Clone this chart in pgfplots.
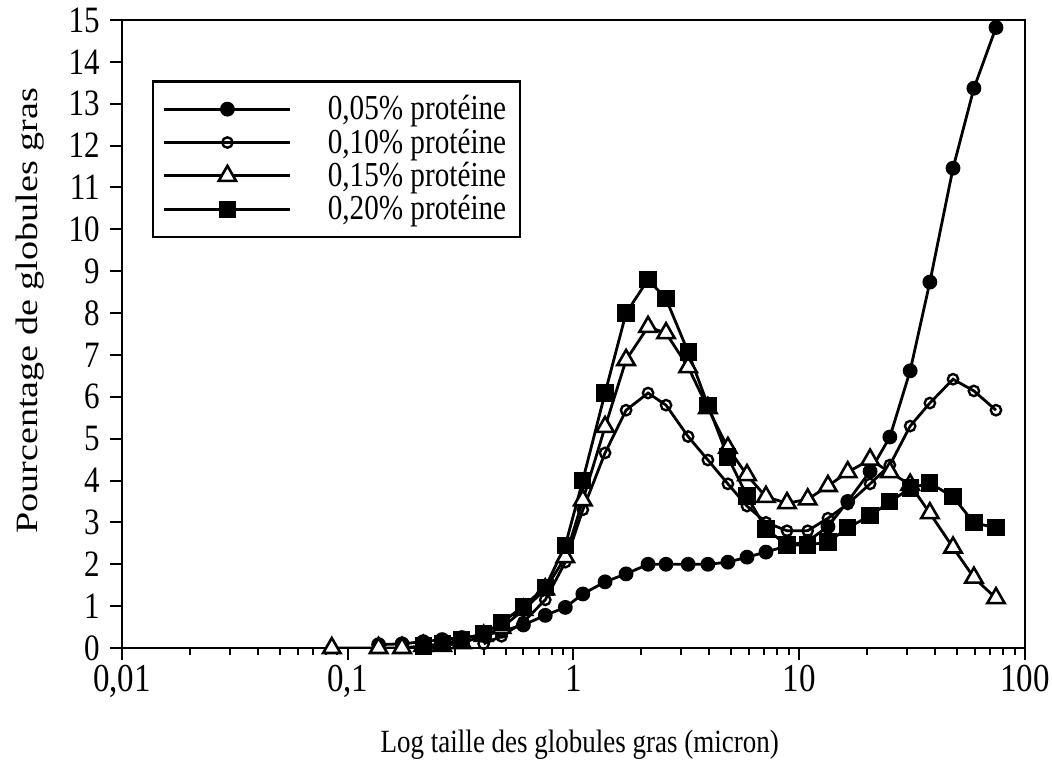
\documentclass[border=0pt]{standalone}
\usepackage{pgfplots}
\pgfplotsset{compat=1.18}
\usepackage{fontspec}
\setmainfont{Liberation Serif}

\pgfplotstableread{
x y
0.137 0.08
0.174 0.10
0.216 0.15
0.262 0.20
0.32 0.25
0.40 0.30
0.48 0.40
0.60 0.55
0.75 0.78
0.92 0.97
1.10 1.29
1.38 1.58
1.71 1.77
2.14 2.00
2.57 2.00
3.22 2.00
3.94 2.00
4.83 2.05
5.87 2.17
7.12 2.29
8.83 2.44
10.9 2.55
13.4 2.90
16.4 3.50
20.6 4.22
25.2 5.04
31.0 6.62
37.9 8.74
48.0 11.46
59.4 13.37
74.4 14.82
}\proteineA

\pgfplotstableread{
x y
0.40 0.10
0.48 0.28
0.60 0.62
0.75 1.15
0.92 2.05
1.10 3.30
1.38 4.66
1.71 5.68
2.14 6.09
2.57 5.80
3.22 5.05
3.94 4.49
4.83 3.92
5.87 3.39
7.12 3.00
8.83 2.80
10.9 2.80
13.4 3.10
16.4 3.44
20.6 3.92
25.2 4.37
31.0 5.30
37.9 5.85
48.0 6.42
59.4 6.14
74.4 5.68
}\proteineB

\pgfplotstableread{
x y
0.085 0.00
0.137 0.00
0.174 0.00
0.216 0.05
0.262 0.05
0.32 0.12
0.40 0.29
0.48 0.48
0.60 0.91
0.75 1.40
0.92 2.17
1.10 3.53
1.38 5.28
1.71 6.88
2.14 7.67
2.57 7.52
3.22 6.71
3.94 5.73
4.83 4.78
5.87 4.13
7.12 3.61
8.83 3.46
10.9 3.55
13.4 3.87
16.4 4.20
20.6 4.50
25.2 4.20
31.0 3.90
37.9 3.22
48.0 2.40
59.4 1.68
74.4 1.19
}\proteineC

\pgfplotstableread{
x y
0.216 0.05
0.262 0.10
0.32 0.20
0.40 0.35
0.48 0.60
0.60 1.00
0.75 1.45
0.92 2.45
1.10 4.01
1.38 6.09
1.71 8.00
2.14 8.80
2.57 8.34
3.22 7.07
3.94 5.80
4.83 4.56
5.87 3.63
7.12 2.84
8.83 2.46
10.9 2.46
13.4 2.53
16.4 2.87
20.6 3.16
25.2 3.49
31.0 3.82
37.9 3.94
48.0 3.61
59.4 2.99
74.4 2.87
}\proteineD

% the scanned figure is stretched vertically, so text is too
\newcommand{\vs}[1]{\scalebox{1}[1.2]{#1}}

\begin{document}
\begin{tikzpicture}[font=\fontsize{15.5pt}{18pt}\selectfont]
\useasboundingbox (-61pt,-60.5pt) rectangle (465pt,324pt);
\begin{axis}[
    at={(0,0)}, anchor=south west,
    scale only axis,
    width=451.5pt, height=314pt,
    xmode=log,
    xmin=0.01, xmax=100,
    ymin=0, ymax=15,
    xtick={0.01,0.1,1,10,100},
    xticklabels={\vs{0,01},\vs{0,1},\vs{1},\vs{10},\vs{100}},
    ytick={0,1,...,15},
    yticklabel={\vs{\pgfmathprintnumber{\tick}}},
    xtick pos=left, ytick pos=left,
    tick align=outside,
    major tick length=6pt, minor tick length=3.5pt,
    every tick/.style={black, line width=1pt},
    axis line style={line width=1.2pt},
    /pgf/number format/assume math mode=true,
    xticklabel style={anchor=north, inner sep=0.5pt, yshift=-2pt, font=\fontsize{16.5pt}{19pt}\selectfont},
    yticklabel style={anchor=east, inner sep=0.5pt, xshift=-4.5pt},
    xlabel={\fontsize{13.5pt}{16pt}\selectfont\vs{Log taille des globules gras (micron)}},
    ylabel={\fontsize{15.5pt}{18pt}\selectfont\scalebox{1.23}[1]{Pourcentage de globules gras}},
    xlabel style={at={(axis description cs:0.507,-0.154)}, anchor=center},
    ylabel style={at={(axis description cs:-0.102,0.537)}, anchor=center},
    legend cell align=left,
    legend style={at={(axis description cs:0.033,0.904)}, anchor=north west,
        draw=black, line width=1.2pt, inner xsep=5pt, inner ysep=5pt,
        row sep=-1pt, column sep=16pt,
        font=\fontsize{14.6pt}{17pt}\selectfont,
        nodes={line width=0.4pt}},
    legend image code/.code={
        \draw[mark repeat=2,mark phase=2,#1]
        plot coordinates {(0pt,0pt) (31.5pt,0pt) (63pt,0pt)};},
    every axis plot/.append style={black, line width=1.4pt},
]
\addplot[mark=*, mark size=3pt] table {\proteineA};
\addlegendentry{\vs{0,05\% protéine}}
\addplot[mark=o, mark size=2.6pt, mark options={fill=white, line width=1.2pt}] table {\proteineB};
\addlegendentry{\vs{0,10\% protéine}}
\addplot[mark=triangle*, mark size=5pt, mark options={fill=white, line width=1.3pt}] table {\proteineC};
\addlegendentry{\vs{0,15\% protéine}}
\addplot[mark=square*, mark size=3.6pt] table {\proteineD};
\addlegendentry{\vs{0,20\% protéine}}
\end{axis}
\end{tikzpicture}
\end{document}
